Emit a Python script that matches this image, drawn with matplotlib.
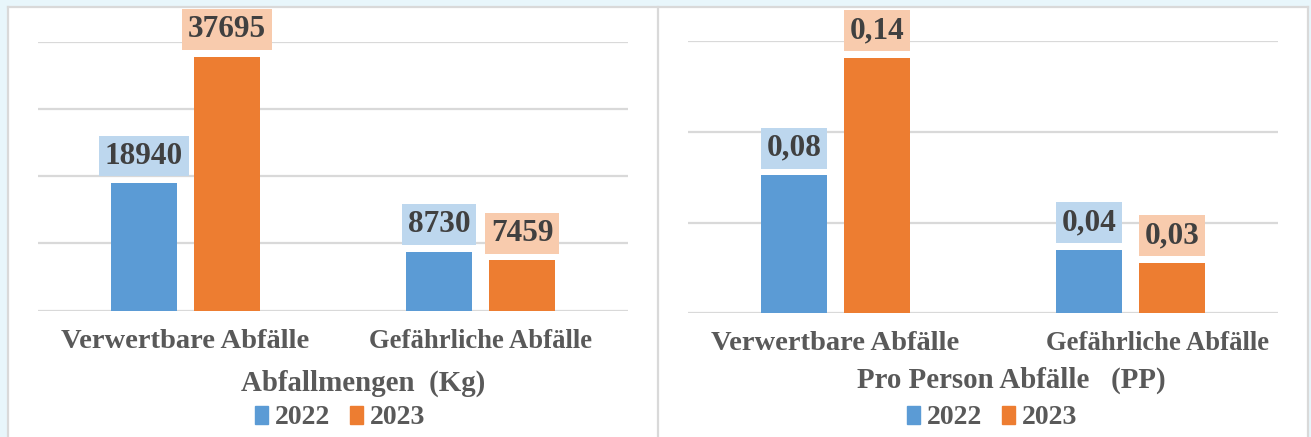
import matplotlib
matplotlib.use("Agg")
import matplotlib.pyplot as plt
from matplotlib.patches import Rectangle, Patch
from matplotlib.lines import Line2D
from matplotlib.transforms import ScaledTranslation

# ---- data ----
categories = ["Verwertbare Abfälle", "Gefährliche Abfälle"]
years = ["2022", "2023"]
kg_2022 = [18940, 8730]
kg_2023 = [37695, 7459]
kg_labels_2022 = ["18940", "8730"]
kg_labels_2023 = ["37695", "7459"]
pp_2022 = [0.076, 0.035]
pp_2023 = [0.141, 0.028]
pp_labels_2022 = ["0,08", "0,04"]
pp_labels_2023 = ["0,14", "0,03"]
kg_ticks = [0, 10000, 20000, 30000, 40000]
pp_ticks = [0, 0.05, 0.10, 0.15]
title_kg = "Abfallmengen  (Kg)"
title_pp = "Pro Person Abfälle    (PP)"

# ---- style ----
W, H, DPI = 1311, 437, 100
BLUE, ORANGE = "#5b9bd5", "#ed7d31"
BLUE_L, ORANGE_L = "#bdd7ee", "#f8cbad"
GRID = "#d9d9d9"
TXT = "#595959"
LBL = "#404040"
FONT = "Liberation Serif"
plt.rcParams["font.family"] = [FONT, "DejaVu Serif"]
plt.rcParams["font.weight"] = "bold"

fig = plt.figure(figsize=(W / DPI, H / DPI), dpi=DPI, facecolor="#e8f6fb")

def px(x0, y0, w, h):
    return [x0 / W, 1 - (y0 + h) / H, w / W, h / H]

# panel backgrounds
for x0, x1 in [(7.5, 657.5), (657.5, 1307.5)]:
    fig.patches.append(Rectangle((x0 / W, 0), (x1 - x0) / W, 1 - 6.5 / H,
                                 transform=fig.transFigure, facecolor="white",
                                 edgecolor="none", zorder=-5))
# borders
for xb in [7.5, 657.5, 1307.5]:
    fig.lines.append(Line2D([xb / W, xb / W], [0, 1 - 6.5 / H], transform=fig.transFigure,
                            color=GRID, lw=1.6, zorder=-4))
fig.lines.append(Line2D([7.5 / W, 1307.5 / W], [1 - 6.5 / H, 1 - 6.5 / H],
                        transform=fig.transFigure, color=GRID, lw=1.6, zorder=-4))

def panel(rect, v22, v23, l22, l23, ticks, title, title_xy, leg_x, shift2=0):
    ax = fig.add_axes(rect)
    ax.set_facecolor("none")
    x = list(range(len(categories)))
    bw, off = 0.224, 0.141
    b1 = ax.bar([i - off for i in x], v22, bw, color=BLUE, zorder=3)
    b2 = ax.bar([i + off for i in x], v23, bw, color=ORANGE, zorder=3)
    ax.set_xlim(-0.5, len(categories) - 0.5)
    ax.set_ylim(ticks[0], ticks[-1])
    ax.set_yticks(ticks)
    ax.yaxis.grid(True, color=GRID, lw=1.6, zorder=0)
    ax.set_axisbelow(True)
    ax.tick_params(axis="y", length=0, labelleft=False)
    ax.set_xticks(x)
    ax.set_xticklabels(categories, fontsize=20.5, color=TXT, fontweight="bold")
    ax.tick_params(axis="x", length=0, pad=13)
    for s in ax.spines.values():
        s.set_visible(False)
    lab = ax.get_xticklabels()[1]
    lab.set_fontsize(19.2)
    if shift2:
        lab.set_transform(lab.get_transform() + ScaledTranslation(shift2 / DPI, 0, fig.dpi_scale_trans))
    for bars, labs, bc in [(b1, l22, BLUE_L), (b2, l23, ORANGE_L)]:
        for r, t in zip(bars, labs):
            ax.annotate(t, (r.get_x() + r.get_width() / 2, r.get_height()),
                        xytext=(0, 19.5), textcoords="offset points",
                        ha="center", va="center", fontsize=22.5, color=LBL, fontweight="bold",
                        bbox=dict(boxstyle="square,pad=0.19", fc=bc, ec="none"), zorder=4,
                        annotation_clip=False)
    fig.text(title_xy[0] / W, 1 - title_xy[1] / H, title, ha="center", va="center",
             fontsize=20.8, color=TXT, fontweight="bold")
    handles = [Patch(color=BLUE), Patch(color=ORANGE)]
    fig.legend(handles, years, loc="center", bbox_to_anchor=(leg_x / W, 1 - 418 / H),
               ncol=2, frameon=False, labelcolor=TXT,
               handlelength=0.48, handleheight=0.6, handletextpad=0.25,
               columnspacing=0.7, borderpad=0, borderaxespad=0,
               prop=dict(family=FONT, weight="bold", size=20))
    return ax

panel(px(38, 41.5, 590, 269), kg_2022, kg_2023, kg_labels_2022, kg_labels_2023,
      kg_ticks, title_kg, (363, 383), 340)
panel(px(688, 41.3, 590, 272), pp_2022, pp_2023, pp_labels_2022, pp_labels_2023,
      pp_ticks, title_pp.replace("    ", "   "), (1011, 380), 992, shift2=27)

fig.savefig("out.png", dpi=DPI, facecolor=fig.get_facecolor())
